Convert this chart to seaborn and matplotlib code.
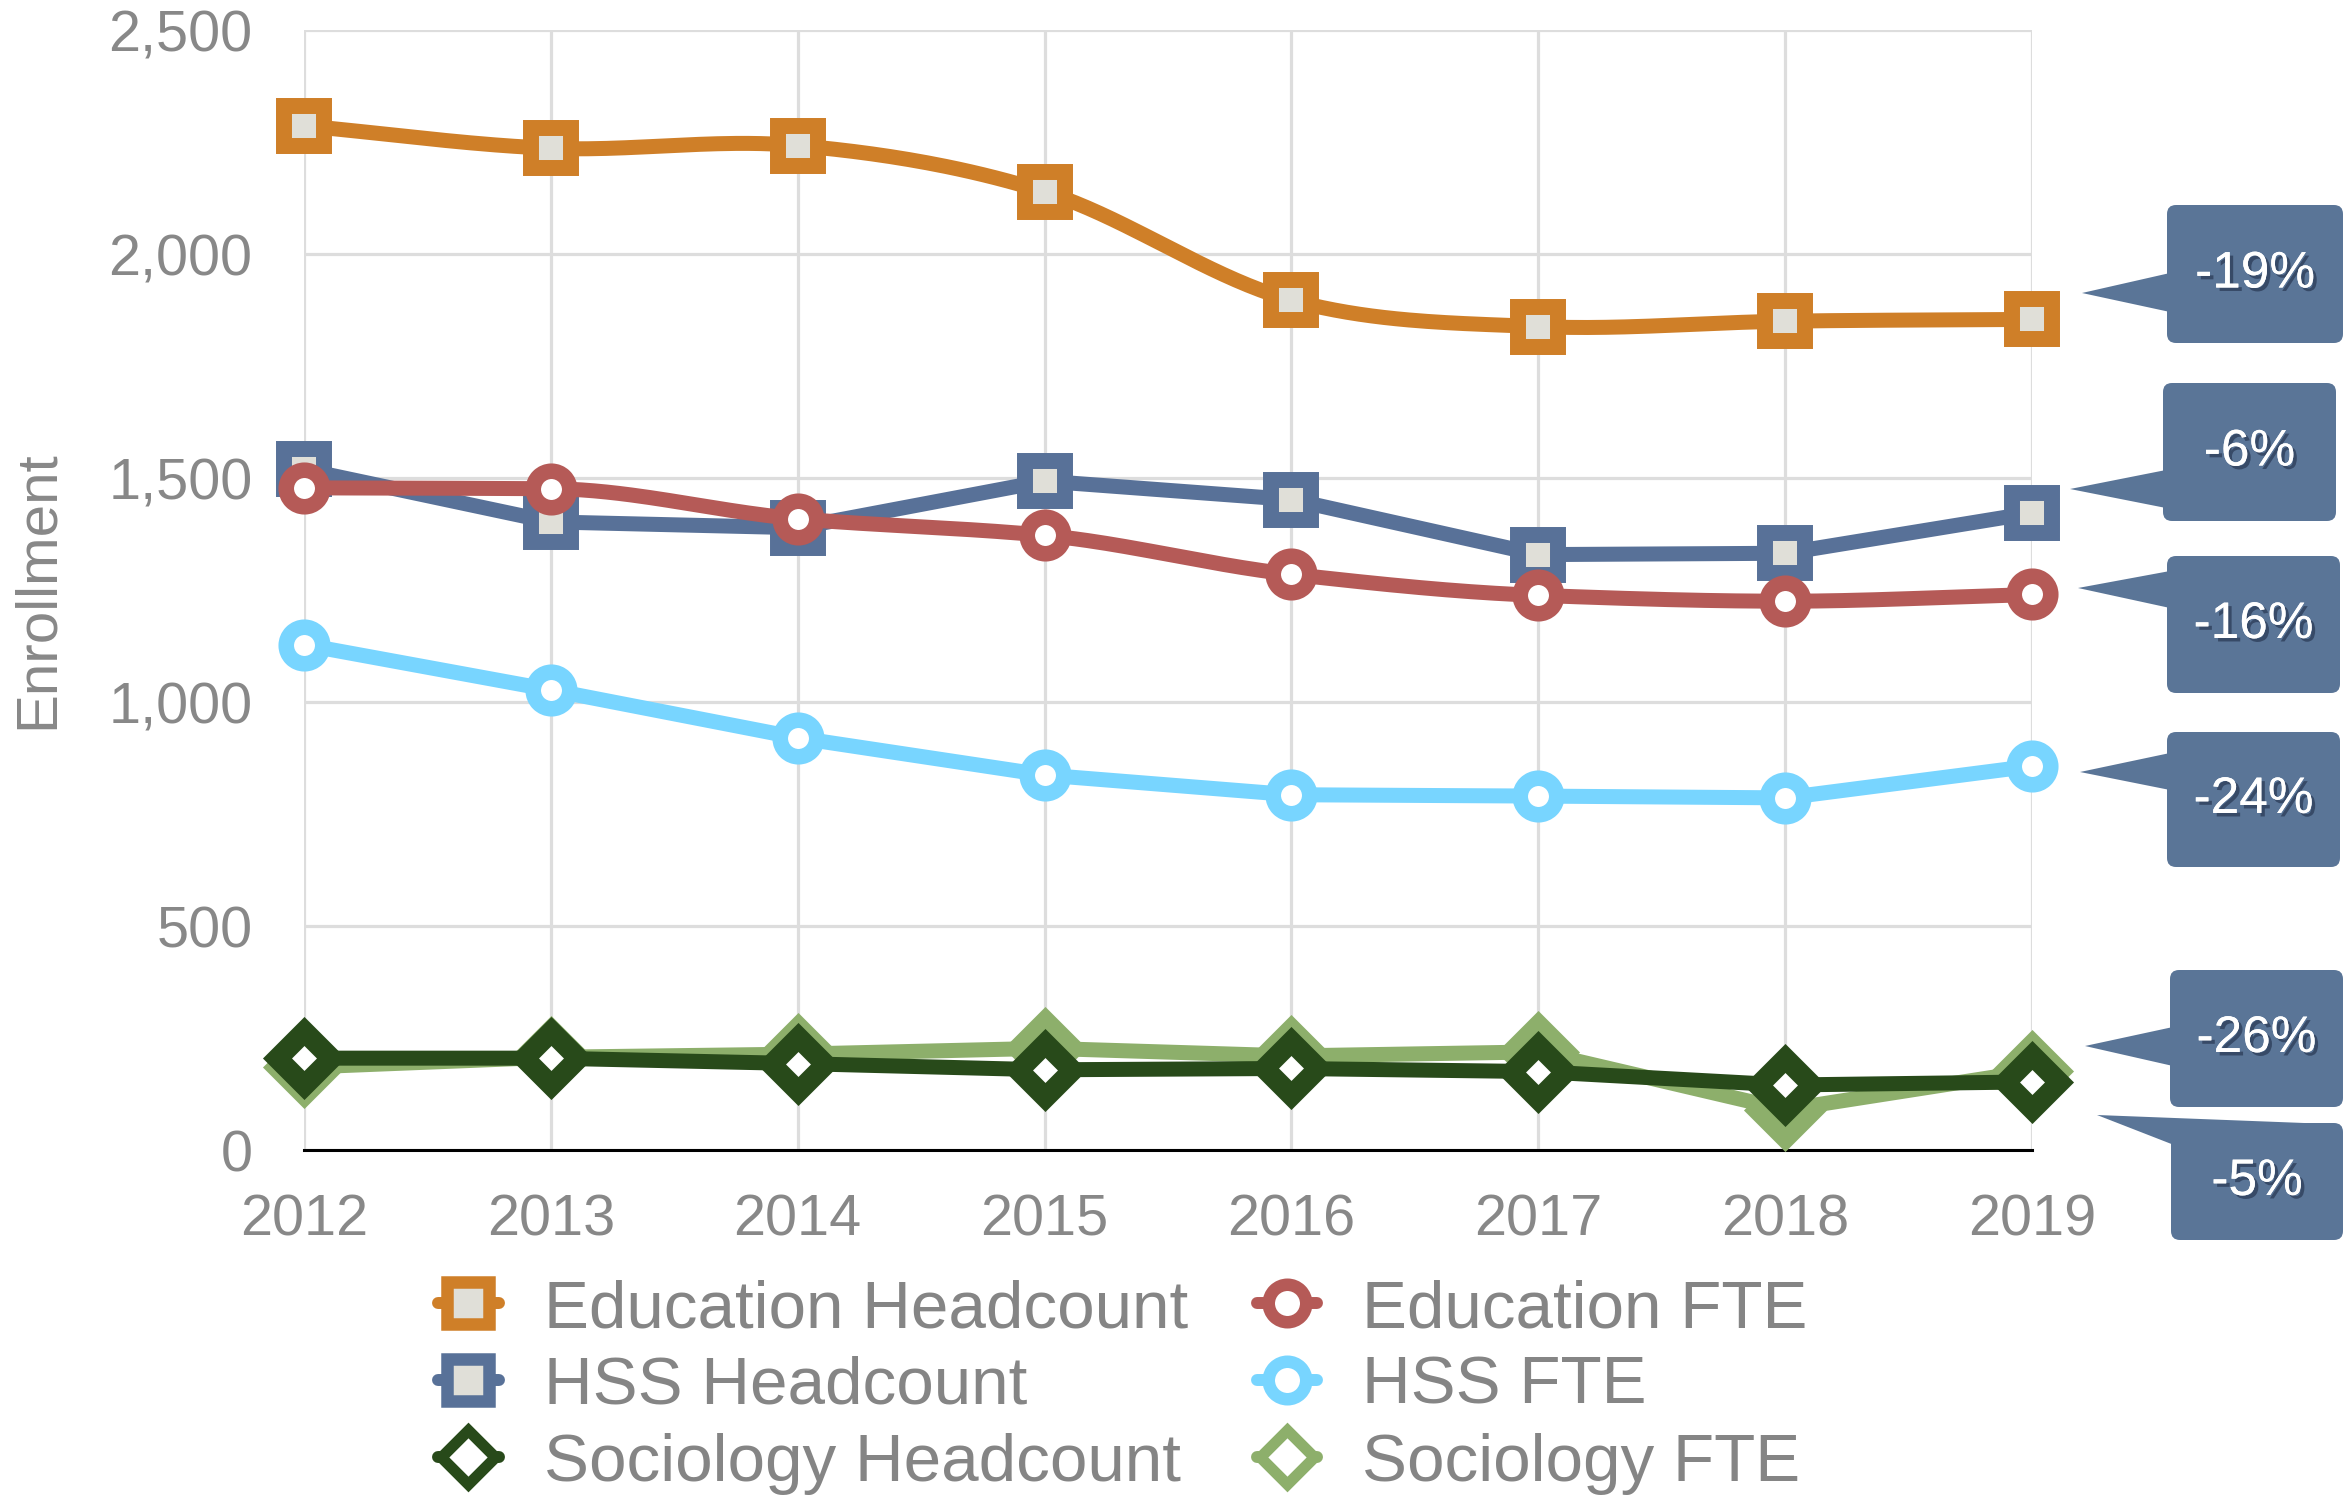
import numpy as np
import pandas as pd
import matplotlib
matplotlib.use("Agg")
import matplotlib.pyplot as plt
import seaborn as sns
from matplotlib.patches import FancyBboxPatch, Polygon
from matplotlib.lines import Line2D
from matplotlib.ticker import FuncFormatter
import matplotlib.patheffects as pe

# ---- data -------------------------------------------------------------
years = [2012, 2013, 2014, 2015, 2016, 2017, 2018, 2019]
education_headcount = [2286, 2236, 2242, 2139, 1897, 1838, 1850, 1854]
hss_headcount = [1519, 1402, 1389, 1493, 1452, 1329, 1332, 1422]
education_fte = [1478, 1476, 1409, 1372, 1285, 1238, 1225, 1240]
hss_fte = [1128, 1027, 920, 837, 793, 790, 786, 857]
sociology_headcount = [205, 205, 193, 179, 182, 175, 145, 152]
sociology_fte = [185, 207, 214, 227, 210, 219, 90, 176]
y_ticks = [0, 500, 1000, 1500, 2000, 2500]

# ---- style --------------------------------------------------------------
sns.set_style("white")
plt.rcParams["font.family"] = ["Liberation Sans", "DejaVu Sans"]

W, H = 2351, 1495
fig = plt.figure(figsize=(W / 100, H / 100), dpi=100)
ax = fig.add_axes([304 / W, 1 - 1150 / H, (2032 - 304) / W, (1150 - 30) / H])

ORANGE = "#cf7f28"
SLATE = "#587198"
RED = "#b55a57"
SKY = "#78d5ff"
DKGREEN = "#284a1a"
LTGREEN = "#8daf6b"
SQ_FILL = "#e0dfd8"
CALLOUT = "#5a7597"
GRAY = "#888888"

LW = 10.8


def hermite(xs, ys, m, n=40):
    cx, cy = [], []
    for i in range(len(xs) - 1):
        h = xs[i + 1] - xs[i]
        t = np.linspace(0, 1, n, endpoint=(i == len(xs) - 2))
        h00 = 2 * t**3 - 3 * t**2 + 1
        h10 = t**3 - 2 * t**2 + t
        h01 = -2 * t**3 + 3 * t**2
        h11 = t**3 - t**2
        cx.append(xs[i] + t * h)
        cy.append(h00 * ys[i] + h10 * h * m[i] + h01 * ys[i + 1] + h11 * h * m[i + 1])
    return np.concatenate(cx), np.concatenate(cy)


def smooth_cardinal(xs, ys):
    xs = np.asarray(xs, float)
    ys = np.asarray(ys, float)
    return hermite(xs, ys, np.gradient(ys, xs))


def smooth_monotone(xs, ys):
    xs = np.asarray(xs, float)
    ys = np.asarray(ys, float)
    d = np.diff(ys) / np.diff(xs)
    m = np.empty_like(ys)
    m[0], m[-1] = d[0], d[-1]
    for i in range(1, len(ys) - 1):
        if d[i - 1] * d[i] <= 0:
            m[i] = 0.0
        else:
            m[i] = 2.0 / (1.0 / d[i - 1] + 1.0 / d[i])
    return hermite(xs, ys, m)


series = [
    # label, values, color, marker, face, ms, mew, curve, zorder
    ("Education Headcount", education_headcount, ORANGE, "s", SQ_FILL, 28.8, 11.5, smooth_cardinal, 6),
    ("HSS Headcount", hss_headcount, SLATE, "s", SQ_FILL, 28.8, 11.5, None, 4),
    ("Sociology Headcount", sociology_headcount, DKGREEN, "D", "white", 27.0, 14.8, None, 8),
    ("Education FTE", education_fte, RED, "o", "white", 26.3, 11.2, smooth_monotone, 5),
    ("HSS FTE", hss_fte, SKY, "o", "white", 26.3, 11.2, None, 5),
    ("Sociology FTE", sociology_fte, LTGREEN, "D", "white", 27.0, 14.8, None, 7),
]

for label, vals, color, mk, face, ms, mew, curve, z in series:
    df = pd.DataFrame({"year": years, "value": vals})
    if curve is not None:
        cx, cy = curve(years, vals)
        sns.lineplot(x=cx, y=cy, ax=ax, color=color, lw=LW, sort=False,
                     estimator=None, zorder=z, clip_on=False, legend=False)
        sns.lineplot(data=df, x="year", y="value", ax=ax, color=color,
                     linestyle="none", marker=mk, ms=ms, mew=mew, mfc=face,
                     mec=color, zorder=z + 0.1, clip_on=False, legend=False)
    else:
        sns.lineplot(data=df, x="year", y="value", ax=ax, color=color, lw=LW,
                     marker=mk, ms=ms, mew=mew, mfc=face, mec=color,
                     zorder=z, clip_on=False, legend=False, estimator=None)

# ---- axes ---------------------------------------------------------------
ax.set_xlim(2012, 2019)
ax.set_ylim(0, 2500)
ax.set_xticks(years)
ax.set_yticks(y_ticks)
ax.yaxis.set_major_formatter(FuncFormatter(lambda v, p: f"{v:,.0f}"))
ax.set_xlabel("")
ax.set_ylabel("")
ax.grid(True, color="#dddddd", lw=2.3, zorder=0)
ax.set_axisbelow(True)
for side in ("top", "right", "left"):
    ax.spines[side].set_visible(False)
ax.spines["bottom"].set_color("black")
ax.spines["bottom"].set_linewidth(2.2)
ax.spines["bottom"].set_zorder(3)
ax.tick_params(axis="both", length=0, labelsize=41.5, colors=GRAY)
ax.tick_params(axis="x", pad=31)
ax.tick_params(axis="y", pad=37)

fig.text(38 / W, 1 - 590 / H, "Enrollment", rotation=90, ha="center",
         va="center", fontsize=42, color=GRAY)

# ---- legend -------------------------------------------------------------
legend_style = {
    "s": dict(ms=30.0, mew=9.0),
    "o": dict(ms=27.0, mew=9.0),
    "D": dict(ms=27.0, mew=8.0),
}
handles = []
for label, vals, color, mk, face, ms, mew, curve, z in series:
    st = legend_style[mk]
    handles.append(Line2D([0], [0], color=color, lw=8.6, marker=mk, ms=st["ms"],
                          mew=st["mew"], mfc=face, mec=color, label=label))
fig.legend(handles=handles, ncol=2, loc="upper left",
           bbox_to_anchor=(438 / W, 1 - 1279 / H), frameon=False, fontsize=48.5,
           labelcolor="#858585", handlelength=0.9, handletextpad=0.67,
           columnspacing=1.02, labelspacing=0.22, borderpad=0, borderaxespad=0,
           numpoints=1)

# ---- change callouts ------------------------------------------------------
def pct_change(vals):
    return f"{round((vals[-1] / vals[0] - 1) * 100):d}%"


callouts = [
    (education_headcount, (2167, 205, 2343, 343), [(2082, 293), (2170, 273), (2170, 312)]),
    (hss_headcount, (2163, 383, 2336, 521), [(2070, 489), (2166, 470), (2166, 508)]),
    (education_fte, (2167, 556, 2340, 693), [(2078, 588), (2170, 571), (2170, 608)]),
    (hss_fte, (2167, 732, 2340, 867), [(2080, 772), (2170, 753), (2170, 790)]),
    (sociology_headcount, (2170, 970, 2343, 1107), [(2085, 1046), (2173, 1027), (2173, 1066)]),
    (sociology_fte, (2171, 1123, 2343, 1240), [(2097, 1115), (2330, 1124), (2174, 1145)]),
]


def to_in(x, y):
    return x / 100, (H - y) / 100


for vals, (x0, y0, x1, y1), tri in callouts:
    bx, by = to_in(x0, y1)
    box = FancyBboxPatch((bx, by), (x1 - x0) / 100, (y1 - y0) / 100,
                         boxstyle="round,pad=0,rounding_size=0.09",
                         transform=fig.dpi_scale_trans, fc=CALLOUT, ec="none")
    fig.add_artist(box)
    poly = Polygon([to_in(px, py) for px, py in tri], closed=True,
                   transform=fig.dpi_scale_trans, fc=CALLOUT, ec="none")
    fig.add_artist(poly)
    tx, ty = to_in((x0 + x1) / 2, (y0 + y1) / 2)
    fig.text(tx, ty, pct_change(vals), transform=fig.dpi_scale_trans,
             ha="center", va="center", fontsize=37, color="white",
             path_effects=[pe.withSimplePatchShadow(offset=(2.5, -2.5),
                                                    shadow_rgbFace="#1b2740",
                                                    alpha=0.55),
                           pe.Normal()])

fig.savefig("out.png", dpi=100)
